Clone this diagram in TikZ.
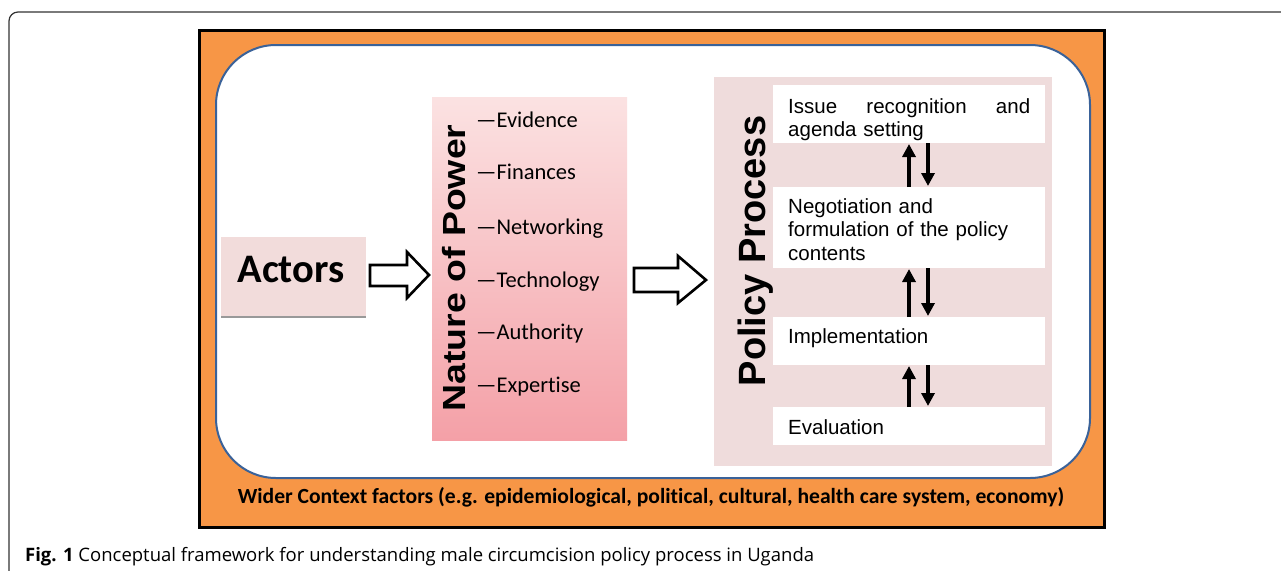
\documentclass[tikz,border=0pt]{standalone}
\usepackage{fontspec}
\setmainfont{Liberation Sans}
\newfontfamily\calfont[Ligatures=NoCommon]{Carlito}
\newfontfamily\capfont{Open Sans}
\usetikzlibrary{arrows.meta}
\definecolor{orangeC}{HTML}{F79646}
\definecolor{blueC}{HTML}{3A6299}
\definecolor{pinkA}{HTML}{F2DCDB}
\definecolor{polC}{HTML}{EFDCDC}
\definecolor{natTop}{HTML}{FBE2E2}
\definecolor{natBot}{HTML}{F4A0A7}
\definecolor{frameC}{HTML}{333333}
\begin{document}
\begin{tikzpicture}[x=1pt,y=-1pt,
  box/.style={anchor=north west, inner sep=0pt, outer sep=0pt},
  item/.style={anchor=base west, inner sep=0pt, font=\calfont\fontsize{22.5}{24}\selectfont},
  ptxt/.style={anchor=base west, inner sep=0pt, align=left, text width=242pt, font=\fontsize{20.5}{23.5}\selectfont},
  blockarrow/.style={draw=black, line width=2.6pt, fill=white, line join=miter},
  updown/.style={line width=4pt, -{Triangle[length=13pt,width=13pt]}, shorten >=1pt}
]
\useasboundingbox (0,0) rectangle (1281,570);
\fill[white] (0,0) rectangle (1281,570);
% outer frame
\draw[line width=1.2pt, draw=frameC, rounded corners=9pt] (9,572) -- (9,12) -- (1283,12);
% context box
\node[box, draw=black, line width=3pt, fill=orangeC, minimum width=905pt, minimum height=497pt] (ctx) at (199,30) {};
\node[box, draw=blueC, line width=2pt, fill=white, rounded corners=60pt, minimum width=874pt, minimum height=433pt] (inner) at (216,45) {};
\node[anchor=base, inner sep=0pt, font=\calfont\bfseries\fontsize{21.6}{24}\selectfont] (wider) at (651,503) {Wider Context factors (e.g. epidemiological, political, cultural, health care system, economy)};
% actors
\node[box, fill=pinkA, minimum width=145pt, minimum height=80pt] (actors) at (221,237) {};
\draw[line width=2pt, draw=black!40] (actors.south west) -- (actors.south east);
\node[anchor=base, inner sep=0pt, font=\calfont\bfseries\fontsize{40.5}{42}\selectfont] (actorsT) at (291,282) {Actors};
% nature of power
\node[box, top color=natTop, bottom color=natBot, minimum width=195pt, minimum height=343pt] (nature) at (432,97) {};
\node[rotate=90, anchor=base, inner sep=0pt, font=\bfseries\fontsize{32}{34}\selectfont] (natureT) at (465,268) {\scalebox{1.17}[1]{Nature of Power}};
\node[item] (i1) at (476,127) {—Evidence};
\node[item] (i2) at (476,179) {—Finances};
\node[item] (i3) at (476,234) {—Networking};
\node[item] (i4) at (476,287) {—Technology};
\node[item] (i5) at (476,339) {—Authority};
\node[item] (i6) at (476,392) {—Expertise};
% block arrows
\draw[blockarrow] (370,265) -- (407,265) -- (407,252) -- (429,275) -- (407,298) -- (407,286) -- (370,286) -- cycle;
\draw[blockarrow] (634,268) -- (678,268) -- (678,256) -- (706,280) -- (678,303) -- (678,292) -- (634,292) -- cycle;
% policy process
\node[box, fill=polC, minimum width=338pt, minimum height=389pt] (policy) at (714,77) {};
\node[rotate=90, anchor=base, inner sep=0pt, font=\bfseries\fontsize{38}{40}\selectfont] (policyT) at (765,251) {Policy Process};
\node[box, fill=white, minimum width=272pt, minimum height=58pt] (b1) at (773,85) {};
\node[box, fill=white, minimum width=272pt, minimum height=81pt] (b2) at (773,187) {};
\node[box, fill=white, minimum width=272pt, minimum height=48pt] (b3) at (773,317) {};
\node[box, fill=white, minimum width=272pt, minimum height=38pt] (b4) at (773,407) {};
\node[ptxt] (t1) at (788,113) {Issue\hfill recognition\hfill and\\agenda setting};
\node[ptxt] (t2) at (788,213) {Negotiation and\\formulation of the policy\\contents};
\node[ptxt] (t3) at (788,343) {Implementation};
\node[ptxt] (t4) at (788,434) {Evaluation};
% up/down arrows
\draw[updown] (b2.north) -- (b1.south);
\draw[updown] ([xshift=19pt]b1.south) -- ([xshift=19pt]b2.north);
\draw[updown] (b3.north) -- (b2.south);
\draw[updown] ([xshift=19pt]b2.south) -- ([xshift=19pt]b3.north);
\draw[updown] (b4.north) -- (b3.south);
\draw[updown] ([xshift=19pt]b3.south) -- ([xshift=19pt]b4.north);
% caption
\node[anchor=base west, inner sep=0pt, font=\capfont\fontsize{18.5}{22}\selectfont] (cap) at (25,561) {\textbf{Fig. 1} Conceptual framework for understanding male circumcision policy process in Uganda};
\end{tikzpicture}
\end{document}
